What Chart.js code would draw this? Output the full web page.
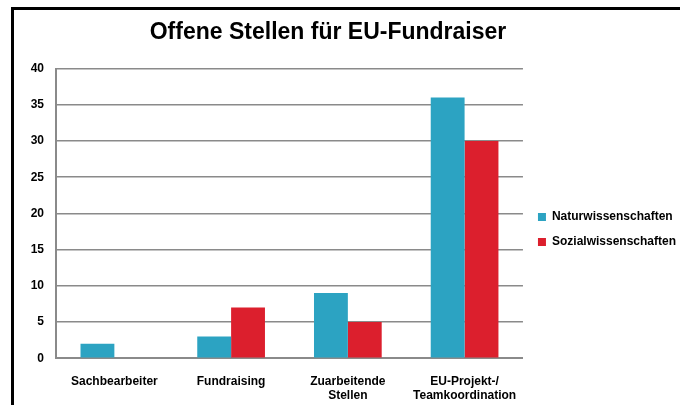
<!DOCTYPE html>
<html>
<head>
<meta charset="utf-8">
<script src="https://cdn.jsdelivr.net/npm/chart.js@4.4.0/dist/chart.umd.min.js"></script>
<style>
  html, body { margin: 0; padding: 0; background: #fff; overflow: hidden; }
  #wrap { position: relative; width: 680px; height: 405px; overflow: hidden; }
  #chart { position: absolute; left: -28px; top: 0; }
  #frame { position: absolute; left: 11px; top: 7px; width: 700px; height: 420px;
           border-left: 3px solid #000; border-top: 3px solid #000; pointer-events: none; }
</style>
</head>
<body>
<div id="wrap">
  <canvas id="chart" width="712" height="423"></canvas>
  <div id="frame"></div>
</div>
<script>
// --- data ---
const categories = ["Sachbearbeiter", "Fundraising", ["Zuarbeitende", "Stellen"], ["EU-Projekt-/", "Teamkoordination"]];
const naturwissenschaften = [2, 3, 9, 36];
const sozialwissenschaften = [0, 7, 5, 30];
const yTicks = [0, 5, 10, 15, 20, 25, 30, 35, 40];

const FONT = "'Liberation Sans', Arial, sans-serif";
const BLUE = "#2ca3c2";
const RED = "#dc1f2d";
const GRID = "#8a8a8a";

// nudge the legend away from the plot (Chart.js puts it flush)
const legendShift = {
  id: "legendShift",
  afterLayout(chart, args, opts) {
    const lg = chart.legend;
    if (!lg) return;
    lg.left += opts.dx || 0;
    lg.right += opts.dx || 0;
    lg.top += opts.dy || 0;
    lg.bottom += opts.dy || 0;
  }
};

new Chart(document.getElementById("chart"), {
  type: "bar",
  data: {
    labels: categories,
    datasets: [
      { label: "Naturwissenschaften", data: naturwissenschaften, backgroundColor: BLUE },
      { label: "Sozialwissenschaften", data: sozialwissenschaften, backgroundColor: RED }
    ]
  },
  options: {
    responsive: false,
    animation: false,
    layout: { padding: { left: 0, right: 0, top: 0, bottom: 4 } },
    datasets: { bar: { categoryPercentage: 0.58, barPercentage: 1.0 } },
    plugins: {
      title: {
        display: true,
        text: "Offene Stellen für EU-Fundraiser",
        color: "#000",
        font: { family: FONT, size: 23, weight: "bold" },
        padding: { top: 19, bottom: 22 }
      },
      legend: {
        position: "right",
        labels: {
          color: "#000",
          font: { family: FONT, size: 12, weight: "bold" },
          boxWidth: 8,
          boxHeight: 8,
          padding: 13
        }
      },
      tooltip: { enabled: false },
      legendShift: { dx: 2, dy: 20 }
    },
    scales: {
      x: {
        grid: { display: false, drawTicks: false },
        border: { display: true, color: GRID, width: 2 },
        ticks: {
          color: "#000",
          font: { family: FONT, size: 12, weight: "bold" },
          padding: 16,
          maxRotation: 0,
          autoSkip: false
        }
      },
      y: {
        min: 0,
        max: 40,
        afterBuildTicks: (axis) => { axis.ticks = yTicks.map(v => ({ value: v })); },
        afterFit: (axis) => { axis.width = 84; },
        grid: { color: GRID, lineWidth: 1.5, drawTicks: false },
        border: { display: true, color: GRID, width: 2 },
        ticks: {
          color: "#000",
          font: { family: FONT, size: 12, weight: "bold" },
          padding: 12
        }
      }
    }
  },
  plugins: [legendShift]
});
</script>
</body>
</html>
